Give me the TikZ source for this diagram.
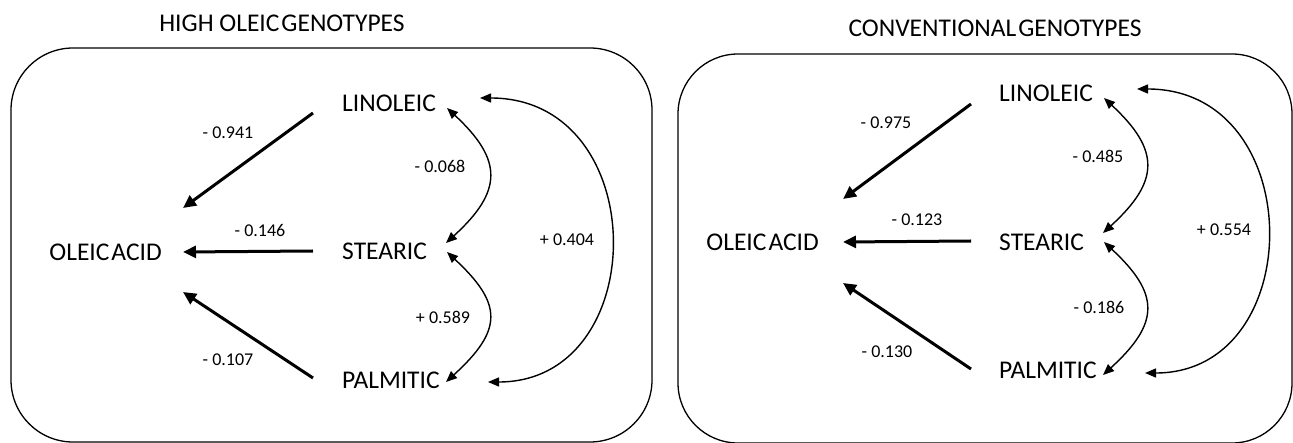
\documentclass[tikz,border=0pt]{standalone}
\usepackage{fontspec}
\setmainfont{Carlito}
\newfontfamily\tightfont{Carlito}[WordSpace=0.35]
\usetikzlibrary{arrows.meta}
\begin{document}
\begin{tikzpicture}[x=1pt,y=-1pt,
  panel/.style={draw=black, line width=1.3pt, rounded corners=62pt},
  ttl/.style={font=\fontsize{25.5}{30}\selectfont, inner sep=0pt},
  nm/.style={font=\fontsize{25.5}{30}\selectfont, inner sep=0pt},
  lbl/.style={font=\fontsize{18}{22}\selectfont, inner sep=0pt},
  patharrow/.style={line width=3pt, -{Triangle[length=13pt,width=12pt]}},
  corr/.style={line width=1.4pt, {Triangle[length=11pt,width=9pt]}-{Triangle[length=11pt,width=9pt]}}]
\useasboundingbox (0,0) rectangle (1293,443);
% ---------- left panel ----------
\draw[panel] (11,48) rectangle (652,442);
\node[ttl] (t1) at (282,23) {HIGH {\tightfont OLEIC GENOTYPES}};
\node[nm, anchor=east] (oa1) at (162,252) {\tightfont OLEIC ACID};
\node[nm, anchor=west] (li1) at (342,103) {LINOLEIC};
\node[nm, anchor=west] (st1) at (342,251) {STEARIC};
\node[nm, anchor=west] (pa1) at (342,380) {PALMITIC};
\draw[patharrow] ([shift={(-29,10)}]li1.west) -- ([shift={(21,-44)}]oa1.east);
\draw[patharrow] ([shift={(-29,0)}]st1.west) -- ([shift={(21,0)}]oa1.east);
\draw[patharrow] ([shift={(-29,-2)}]pa1.west) -- ([shift={(21,40)}]oa1.east);
\draw[corr] ([shift={(105,5)}]li1.west) .. controls +(56,52) and +(57,-52) .. ([shift={(104,-8)}]st1.west);
\draw[corr] ([shift={(105,1)}]st1.west) .. controls +(56,52) and +(57,-52) .. ([shift={(104,2)}]pa1.west);
\draw[corr] ([shift={(138,-5)}]li1.west) .. controls +(173,0) and +(165,0) .. ([shift={(146,2)}]pa1.west);
\node[lbl] (l1) at (228,133) {- 0.941};
\node[lbl] (l2) at (260,230) {- 0.146};
\node[lbl] (l3) at (228,360) {- 0.107};
\node[lbl] (l4) at (440,166) {- 0.068};
\node[lbl] (l5) at (443,317) {+ 0.589};
\node[lbl] (l6) at (567,240) {+ 0.404};
% ---------- right panel ----------
\draw[panel, rounded corners=60pt] (678,54) rectangle (1292,443);
\node[ttl] (t2) at (995,28) {\tightfont CONVENTIONAL GENOTYPES};
\node[nm, anchor=east] (oa2) at (819,242) {\tightfont OLEIC ACID};
\node[nm, anchor=west] (li2) at (999,93) {LINOLEIC};
\node[nm, anchor=west] (st2) at (999,242) {STEARIC};
\node[nm, anchor=west] (pa2) at (999,370) {PALMITIC};
\draw[patharrow] ([shift={(-28,11)}]li2.west) -- ([shift={(24,-43)}]oa2.east);
\draw[patharrow] ([shift={(-28,-1)}]st2.west) -- ([shift={(24,0)}]oa2.east);
\draw[patharrow] ([shift={(-28,-1)}]pa2.west) -- ([shift={(24,41)}]oa2.east);
\draw[corr] ([shift={(105,5)}]li2.west) .. controls +(56,52) and +(57,-52) .. ([shift={(104,-9)}]st2.west);
\draw[corr] ([shift={(105,0)}]st2.west) .. controls +(56,52) and +(57,-52) .. ([shift={(104,5)}]pa2.west);
\draw[corr] ([shift={(138,-4)}]li2.west) .. controls +(172,0) and +(164,0) .. ([shift={(146,3)}]pa2.west);
\node[lbl] (r1) at (886,123) {- 0.975};
\node[lbl] (r2) at (917,220) {- 0.123};
\node[lbl] (r3) at (887,352) {- 0.130};
\node[lbl] (r4) at (1098,156) {- 0.485};
\node[lbl] (r5) at (1099,307) {- 0.186};
\node[lbl] (r6) at (1224,230) {+ 0.554};
\end{tikzpicture}
\end{document}
